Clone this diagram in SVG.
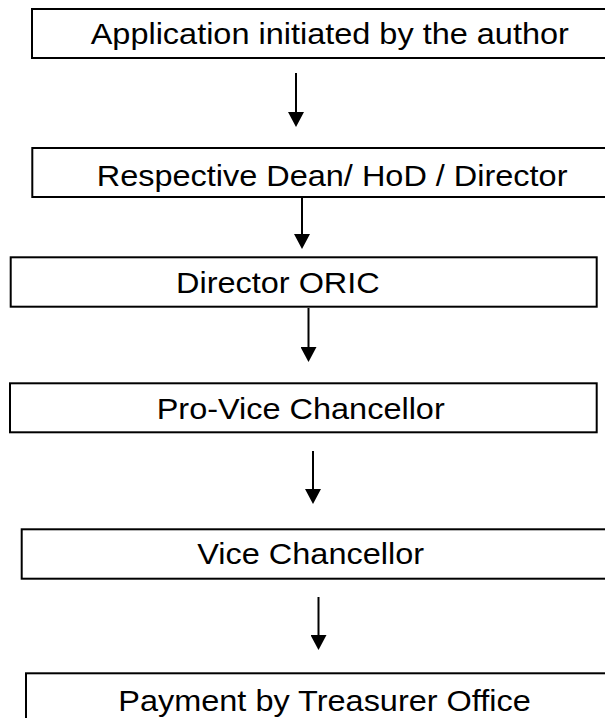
<svg xmlns="http://www.w3.org/2000/svg" width="605" height="718" viewBox="0 0 605 718">
  <style>
    .box { fill: #ffffff; stroke: #000000; stroke-width: 2; }
    .lbl { font-family: "Liberation Sans", Arial, sans-serif; font-size: 29px; fill: #000000; }
    .conn { stroke: #000000; stroke-width: 2; fill: none; marker-end: url(#head); }
  </style>
  <defs>
    <marker id="head" markerUnits="userSpaceOnUse" markerWidth="15" markerHeight="16" viewBox="0 0 15 16" refX="0" refY="8" orient="auto">
      <path d="M0,0 L15,8 L0,16 z" fill="#000000"/>
    </marker>
  </defs>
  <rect width="605" height="718" fill="#ffffff"/>

  <g id="connectors">
    <line class="conn" x1="296" y1="73" x2="296" y2="112"/>
    <line class="conn" x1="302" y1="197" x2="302" y2="234"/>
    <line class="conn" x1="308.5" y1="308" x2="308.5" y2="347"/>
    <line class="conn" x1="313" y1="451" x2="313" y2="489"/>
    <line class="conn" x1="318.5" y1="597" x2="318.5" y2="635"/>
  </g>

  <g id="node1">
    <rect class="box" x="32" y="9" width="600" height="49"/>
    <text class="lbl" transform="translate(90.7,44) scale(1.12,1)">Application initiated by the author</text>
  </g>
  <g id="node2">
    <rect class="box" x="32.3" y="148" width="600" height="49"/>
    <text class="lbl" transform="translate(96.7,186) scale(1.12,1)">Respective Dean/ HoD / Director</text>
  </g>
  <g id="node3">
    <rect class="box" x="10.7" y="257.3" width="586" height="49.4"/>
    <text class="lbl" transform="translate(176,293) scale(1.12,1)">Director ORIC</text>
  </g>
  <g id="node4">
    <rect class="box" x="10" y="383.3" width="586.7" height="49"/>
    <text class="lbl" transform="translate(156.7,419) scale(1.12,1)">Pro-Vice Chancellor</text>
  </g>
  <g id="node5">
    <rect class="box" x="21.7" y="529.3" width="600" height="49.4"/>
    <text class="lbl" transform="translate(197.3,564) scale(1.12,1)">Vice Chancellor</text>
  </g>
  <g id="node6">
    <rect class="box" x="26" y="673.3" width="600" height="60"/>
    <text class="lbl" transform="translate(118.3,711) scale(1.12,1)">Payment by Treasurer Office</text>
  </g>
</svg>
